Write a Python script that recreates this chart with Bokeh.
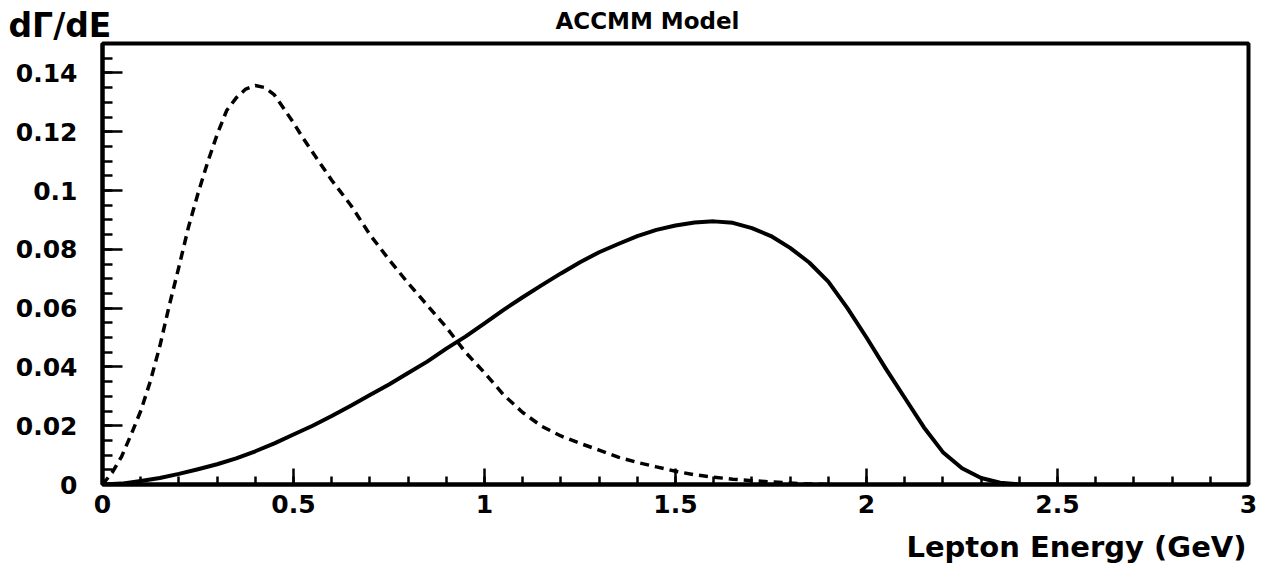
from bokeh.plotting import figure
from bokeh.models import Range1d, FixedTicker, Label, Title
from bokeh.embed import file_html
from bokeh.resources import INLINE

# ---- data ----
energy_dashed = [0.00, 0.025, 0.05, 0.075, 0.10, 0.125, 0.15, 0.175, 0.20, 0.225, 0.25, 0.275,
                 0.30, 0.325, 0.35, 0.375, 0.40, 0.425, 0.45, 0.475, 0.50, 0.525, 0.55,
                 0.60, 0.65, 0.70, 0.75, 0.80, 0.85, 0.90, 0.95,
                 1.00, 1.05, 1.10, 1.15, 1.20, 1.25, 1.30, 1.35, 1.40, 1.45,
                 1.50, 1.55, 1.60, 1.65, 1.70, 1.75, 1.80, 1.85, 1.90]
rate_dashed = [0.0, 0.004, 0.0095, 0.017, 0.025, 0.035, 0.047, 0.061, 0.074, 0.0875, 0.099, 0.1095,
               0.119, 0.1272, 0.1315, 0.1345, 0.1357, 0.135, 0.1325, 0.1278, 0.123, 0.1178, 0.113,
               0.1035, 0.095, 0.085, 0.0765, 0.0685, 0.061, 0.0535, 0.045,
               0.038, 0.0305, 0.0245, 0.0198, 0.0165, 0.014, 0.0117, 0.0093, 0.0075, 0.006,
               0.0045, 0.0033, 0.0025, 0.0018, 0.0013, 0.0009, 0.0005, 0.0002, 0.0]

energy_solid = [0.00, 0.05, 0.10, 0.15, 0.20, 0.25, 0.30, 0.35, 0.40, 0.45,
                0.50, 0.55, 0.60, 0.65, 0.70, 0.75, 0.80, 0.85, 0.90, 0.95,
                1.00, 1.05, 1.10, 1.15, 1.20, 1.25, 1.30, 1.35, 1.40, 1.45,
                1.50, 1.55, 1.60, 1.65, 1.70, 1.75, 1.80, 1.85, 1.90, 1.95,
                2.00, 2.05, 2.10, 2.15, 2.20, 2.25, 2.30, 2.35, 2.40, 2.50]
rate_solid = [0.0, 0.0003, 0.0012, 0.0022, 0.0036, 0.0052, 0.0069, 0.0089, 0.0113, 0.014,
              0.017, 0.020, 0.0233, 0.0268, 0.0304, 0.034, 0.0379, 0.0418, 0.0462, 0.0503,
              0.0548, 0.0594, 0.0637, 0.0678, 0.0718, 0.0756, 0.0790, 0.0818, 0.0845, 0.0866,
              0.0881, 0.0891, 0.0895, 0.0890, 0.0872, 0.0845, 0.0805, 0.0755, 0.069, 0.060,
              0.050, 0.0395, 0.0295, 0.0195, 0.0110, 0.0055, 0.0022, 0.0006, 0.0, 0.0]

x_ticks = [0, 0.5, 1, 1.5, 2, 2.5, 3]
x_tick_labels = ["0", "0.5", "1", "1.5", "2", "2.5", "3"]
y_ticks = [0, 0.02, 0.04, 0.06, 0.08, 0.10, 0.12, 0.14]
y_tick_labels = ["0", "0.02", "0.04", "0.06", "0.08", "0.1", "0.12", "0.14"]

title_text = "ACCMM Model"
x_title = "Lepton Energy (GeV)"
y_title = "d\u0393/dE"

FONT = "DejaVu Sans"

p = figure(width=1270, height=570, output_backend="svg", toolbar_location=None,
           x_range=Range1d(0, 3), y_range=Range1d(0, 0.15))
p.title.text = ""
p.min_border_left = 102
p.min_border_right = 22
p.min_border_top = 43
p.min_border_bottom = 86
p.background_fill_color = "white"
p.border_fill_color = "white"
p.outline_line_color = "black"
p.outline_line_width = 4
p.xgrid.visible = False
p.ygrid.visible = False

p.line(energy_solid, rate_solid, line_color="black", line_width=4, line_join="round")
p.line(energy_dashed, rate_dashed, line_color="black", line_width=3.5, line_dash="9 6",
       line_join="round")

xa = p.xaxis[0]
xa.ticker = FixedTicker(ticks=x_ticks, minor_ticks=[round(i * 0.1, 2) for i in range(31)])
xa.major_label_overrides = {t: l for t, l in zip(x_ticks, x_tick_labels)}
xa.axis_line_width = 4
xa.major_tick_in = 16
xa.major_tick_out = 0
xa.minor_tick_in = 8
xa.minor_tick_out = 0
xa.major_tick_line_width = 2.5
xa.minor_tick_line_width = 2.5
xa.major_label_standoff = 10
xa.major_label_text_font = FONT
xa.major_label_text_font_style = "bold"
xa.major_label_text_font_size = "25px"
xa.major_label_text_color = "black"

ya = p.yaxis[0]
ya.ticker = FixedTicker(ticks=y_ticks, minor_ticks=[round(i * 0.005, 3) for i in range(31)])
ya.major_label_overrides = {t: l for t, l in zip(y_ticks, y_tick_labels)}
ya.axis_line_width = 4
ya.major_tick_in = 20
ya.major_tick_out = 0
ya.minor_tick_in = 10
ya.minor_tick_out = 0
ya.major_tick_line_width = 2.5
ya.minor_tick_line_width = 2.5
ya.major_label_standoff = 25
ya.major_label_text_font = FONT
ya.major_label_text_font_style = "bold"
ya.major_label_text_font_size = "25px"
ya.major_label_text_color = "black"

# --- texts above the frame (stacked outward from the frame, in order added) ---
spacer = Title(text=" ", text_font=FONT, text_font_size="10px", standoff=5)
t_ylab = Title(text=y_title, align="left", vertical_align="middle", offset=-94,
               text_font=FONT, text_font_style="bold", text_font_size="33px",
               text_color="black", standoff=0)
t_model = Title(text=title_text, align="left", vertical_align="middle", offset=453,
                text_font=FONT, text_font_style="bold", text_font_size="23px",
                text_color="black", standoff=0)
try:
    t_ylab.standoff = -40
    t_model.standoff = -20
except Exception:
    pass
p.add_layout(spacer, "above")
p.add_layout(t_ylab, "above")
p.add_layout(t_model, "above")

# x-axis title, right-aligned under the frame (coordinates relative to its panel)
p.add_layout(Label(x=1144, y=3, x_units="screen", y_units="screen", text=x_title,
                   text_font=FONT, text_font_style="bold", text_font_size="29px",
                   text_align="right", text_baseline="alphabetic", text_color="black"), "below")

open("out.html", "w").write(file_html(p, INLINE))
